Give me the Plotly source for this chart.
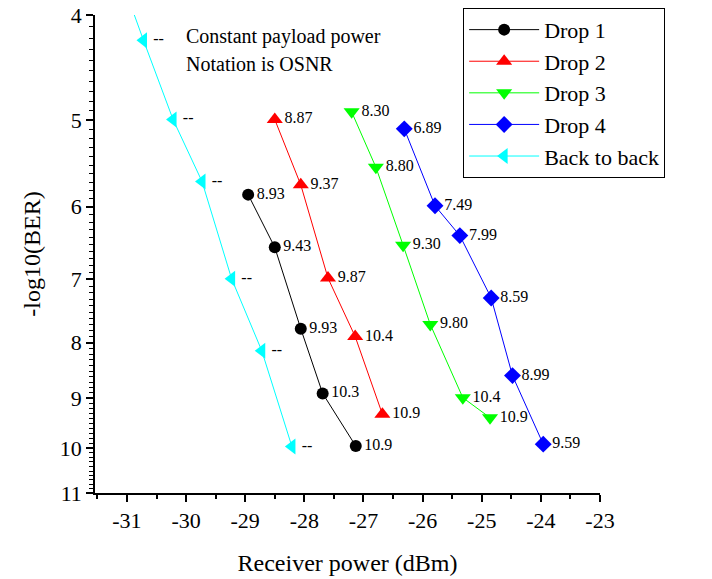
import plotly.graph_objects as go

# Data (Receiver power in dBm, -log10(BER), OSNR label)
drop1_x = [-28.95, -28.50, -28.06, -27.69, -27.13]
drop1_y = [5.85, 6.54, 7.77, 8.91, 9.96]
drop1_t = ["8.93", "9.43", "9.93", "10.3", "10.9"]

drop2_x = [-28.50, -28.06, -27.60, -27.14, -26.68]
drop2_y = [4.99, 5.73, 6.98, 7.90, 9.31]
drop2_t = ["8.87", "9.37", "9.87", "10.4", "10.9"]

drop3_x = [-27.20, -26.79, -26.33, -25.87, -25.32, -24.86]
drop3_y = [4.91, 5.52, 6.51, 7.70, 8.99, 9.38]
drop3_t = ["8.30", "8.80", "9.30", "9.80", "10.4", "10.9"]

drop4_x = [-26.31, -25.79, -25.37, -24.84, -24.48, -23.96]
drop4_y = [5.09, 5.99, 6.38, 7.28, 8.58, 9.92]
drop4_t = ["6.89", "7.49", "7.99", "8.59", "8.99", "9.59"]

b2b_x = [-31.22, -30.72, -30.22, -29.73, -29.23, -28.72, -28.21]
b2b_y = [3.55, 4.22, 4.99, 5.69, 6.99, 8.14, 9.97]
b2b_t = ["", "--", "--", "--", "--", "--", "--"]

y_ticks = [4, 5, 6, 7, 8, 9, 10, 11]
x_ticks = [-31, -30, -29, -28, -27, -26, -25, -24, -23]
x_ticktext = ["-31", "-30", "-29", "-28", "-27", "-26", "-25", "-24", "-23"]

FONT = "Liberation Serif"

series = [
    ("Drop 1", drop1_x, drop1_y, drop1_t, "#000000", "circle", 12),
    ("Drop 2", drop2_x, drop2_y, drop2_t, "#ff0000", "triangle-up", 14),
    ("Drop 3", drop3_x, drop3_y, drop3_t, "#00ff00", "triangle-down", 14),
    ("Drop 4", drop4_x, drop4_y, drop4_t, "#0000ff", "diamond", 13),
    ("Back to back", b2b_x, b2b_y, b2b_t, "#00ffff", "triangle-left", 14),
]

fig = go.Figure()
for name, xs, ys, ts, col, sym, sz in series:
    fig.add_trace(go.Scatter(
        x=xs, y=ys, text=ts, name=name,
        mode="lines+markers+text",
        textposition="middle right",
        textfont=dict(family=FONT, size=16, color="black"),
        line=dict(color=col, width=1),
        marker=dict(color=col, symbol=sym, size=sz, line=dict(width=0)),
        cliponaxis=True,
    ))

minor_y = [round(v / 10, 1) for v in range(40, 111) if v % 10 != 0]

fig.update_layout(
    width=712, height=579,
    paper_bgcolor="white", plot_bgcolor="white",
    margin=dict(l=95, r=112, t=15, b=86, autoexpand=False),
    font=dict(family=FONT, size=20, color="black"),
    showlegend=True,
    legend=dict(
        x=0.729, y=1.015, xanchor="left", yanchor="top",
        bordercolor="black", borderwidth=1, bgcolor="white",
        font=dict(family=FONT, size=22),
        tracegroupgap=0, itemwidth=70,
        entrywidth=121, entrywidthmode="pixels",
    ),
    xaxis=dict(
        range=[-31.54, -23], tickmode="array", tickvals=x_ticks, ticktext=x_ticktext,
        ticks="outside", ticklen=7, tickwidth=1.5, tickcolor="black",
        showline=True, linecolor="black", linewidth=1.5,
        showgrid=False, zeroline=False,
        tickfont=dict(family=FONT, size=22),
        title=dict(text="Receiver power (dBm)", font=dict(family=FONT, size=24), standoff=22),
        minor=dict(dtick=0.5, ticks="outside", ticklen=4, tickcolor="black", tickwidth=1.5, showgrid=False),
    ),
    yaxis=dict(
        type="log",
        range=[1.0413927, 0.6020600],
        tickmode="array", tickvals=y_ticks, ticktext=[str(v) for v in y_ticks],
        ticks="outside", ticklen=7, tickwidth=1.5, tickcolor="black",
        showline=True, linecolor="black", linewidth=1.5,
        showgrid=False, zeroline=False,
        tickfont=dict(family=FONT, size=22),
        title=dict(text="-log10(BER)", font=dict(family=FONT, size=24), standoff=12),
        minor=dict(tickmode="array", tickvals=minor_y, ticks="outside", ticklen=4,
                   tickcolor="black", tickwidth=1, showgrid=False),
    ),
)

fig.add_annotation(
    xref="paper", yref="paper", x=(184 - 95) / 505, y=1 - (37 - 15) / 478,
    xanchor="left", yanchor="middle", showarrow=False, align="left",
    text="Constant payload power", font=dict(family=FONT, size=20, color="black"),
)
fig.add_annotation(
    xref="paper", yref="paper", x=(184 - 95) / 505, y=1 - (64 - 15) / 478,
    xanchor="left", yanchor="middle", showarrow=False, align="left",
    text="Notation is OSNR", font=dict(family=FONT, size=20, color="black"),
)

fig.write_html("out.html", config={"displayModeBar": False})

# remove the browser's default page margin so the figure sits at (0, 0)
with open("out.html", "r", encoding="utf-8") as f:
    html = f.read()
html = html.replace("<body>", '<body style="margin:0;padding:0;">', 1)
with open("out.html", "w", encoding="utf-8") as f:
    f.write(html)
